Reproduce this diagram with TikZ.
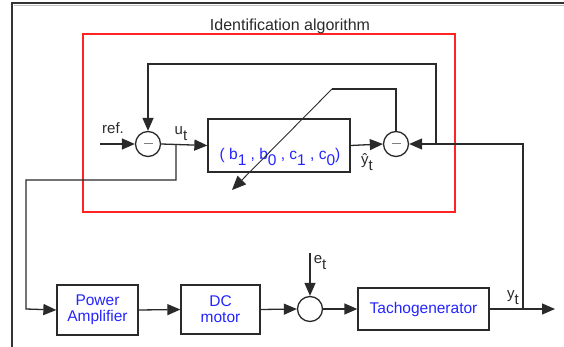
\documentclass[tikz,border=0pt]{standalone}
\usepackage{fontspec}
\setmainfont{Liberation Sans}
\usetikzlibrary{arrows.meta,calc}
\definecolor{ln}{HTML}{2A2A2A}
\definecolor{bl}{HTML}{2424FF}
\definecolor{rd}{HTML}{FF2424}
\newcommand{\lsub}[1]{\raisebox{-6pt}{#1}}
\begin{document}
\begin{tikzpicture}[x=1pt,y=-1pt,
  wire/.style={draw=ln,line width=1.3pt},
  arr/.style={wire,-{Triangle[length=13pt,width=11pt]}},
  sumnode/.style={circle,draw=ln,line width=1.3pt,minimum size=25pt,inner sep=0pt},
  blockbox/.style={draw=ln,line width=1.3pt,inner sep=0pt,align=center,text=bl,font=\fontsize{15.5}{17}\selectfont},
  lbl/.style={inner sep=0pt,anchor=base,font=\fontsize{15}{17}\selectfont,text=ln}]
\useasboundingbox (0,0) rectangle (564,347);
% outer frame
\draw[black!80,line width=1.3pt] (12,347) -- (12,3) -- (564,3);
\draw[black!25,line width=0.8pt] (13.5,5) -- (564,5);
% red box
\draw[rd,line width=1.2pt] (83,34) rectangle (455,212);
\node[lbl,font=\fontsize{16}{18}\selectfont] (title) at (290,31) {Identification algorithm};
% nodes
\node[sumnode] (s1) at (148,144) {};
\node[sumnode] (s2) at (396,144) {};
\node[sumnode] (s3) at (310,309) {};
\draw[ln!60,line width=1pt] ($(s1.center)+(-4.5,0)$) -- ($(s1.center)+(4.5,0)$);
\draw[ln!60,line width=1pt] ($(s2.center)+(-4.5,0)$) -- ($(s2.center)+(4.5,0)$);
\node[blockbox,minimum width=142pt,minimum height=53pt] (blk) at (279,145.5) {};
\node[inner sep=0pt,anchor=base,text=bl,font=\fontsize{15.5}{17}\selectfont] (blktxt) at (280,160)
  {( b\lsub{1} , b\lsub{0} , c\lsub{1} , c\lsub{0})};
\node[blockbox,minimum width=81pt,minimum height=50pt] (pa) at (97.5,310) {Power\\[-1pt]Amplifier};
\node[blockbox,minimum width=79pt,minimum height=49pt] (dc) at (220.5,309.5) {DC\\[-1pt]motor};
\node[blockbox,minimum width=131pt,minimum height=42pt] (tg) at (423.5,309) {Tachogenerator};
% coordinates
\coordinate (ref) at (100,144);
\coordinate (ub) at (176,144);
\coordinate (ub1) at (176,180);
\coordinate (ub2) at (26,180);
\coordinate (ub3) at (26,309);
\coordinate (fb) at (436,144);
\coordinate (fb1) at (436,64);
\coordinate (fb2) at (148,64);
\coordinate (yj) at (523,309);
\coordinate (yj1) at (523,144);
\coordinate (out) at (555,309);
\coordinate (d1) at (396,89);
\coordinate (d2) at (332,89);
\coordinate (d3) at (232,190);
\coordinate (et) at (310,253);
% connectors
\draw[arr] (ref) -- (s1.west);
\draw[arr] (s1.east) -- (blk.west);
\draw[arr] (ub) -- (ub1) -- (ub2) -- (ub3) -- (pa.west);
\draw[arr] (blk.east) -- (s2.west);
\draw[arr] (fb) -- (fb1) -- (fb2) -- (s1.north);
\draw[arr] (yj) -- (yj1) -- (s2.east);
\draw[wire] (s2.north) -- (d1) -- (d2);
\draw[draw=ln,line width=0.9pt,-{Triangle[length=14pt,width=12pt]}] (d2) -- (d3);
\draw[arr] (pa.east) -- (dc.west);
\draw[arr] (dc.east) -- (s3.west);
\draw[arr] (s3.east) -- (tg.west);
\draw[arr] (tg.east) -- (out);
\draw[arr] (et) -- (s3.north);
% labels
\node[lbl] (lref) at (113,134) {ref.};
\node[lbl] (lu) at (181,135) {u\lsub{t}};
\node[lbl] (lyh) at (367,165) {ŷ\lsub{t}};
\node[lbl] (le) at (320,263) {e\lsub{t}};
\node[lbl] (ly) at (513,298) {y\lsub{t}};
\end{tikzpicture}
\end{document}
